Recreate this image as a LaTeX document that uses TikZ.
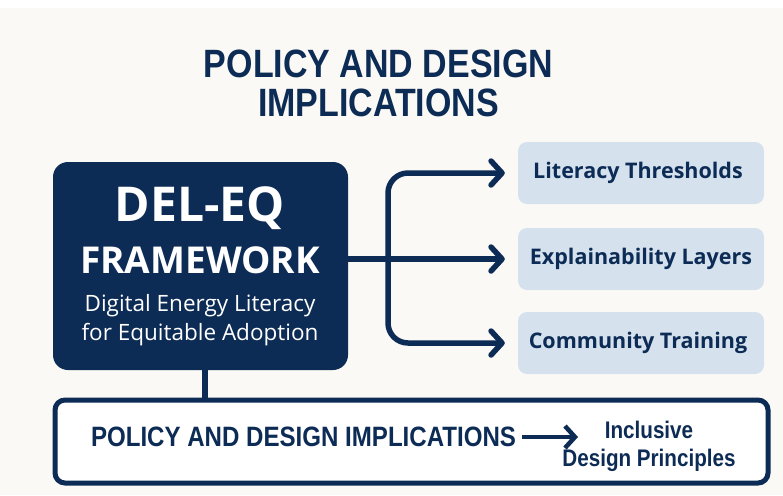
\documentclass[tikz,border=0pt]{standalone}
\usepackage{fontspec}
\setmainfont{Open Sans}
\newfontfamily\condfont[FakeStretch=0.86]{Liberation Sans}
\usetikzlibrary{arrows.meta}
\definecolor{navy}{HTML}{0C2B55}
\definecolor{paleblue}{HTML}{D5E2EE}
\definecolor{paper}{HTML}{FBF9F5}
\tikzset{
	item/.style={fill=paleblue,rounded corners=9pt,minimum width=246pt,minimum height=62pt,inner sep=0pt,text=navy,font=\fontsize{21.5}{24}\selectfont\bfseries},
	link/.style={draw=navy,line width=5.5pt,line cap=round,rounded corners=20pt,-{Straight Barb[length=11pt,width=24pt,round]}},
	inbox/.style={text=white,inner sep=0pt}
}
\begin{document}
\begin{tikzpicture}[x=1pt,y=-1pt]
	\useasboundingbox (0,0) rectangle (783,495);
	\fill[paper] (0,0) rectangle (783,495);
	\fill[white] (0,0) rectangle (783,8);
	% heading
	\node[inner sep=0pt,align=center,text=navy,font=\condfont\bfseries\fontsize{39.5}{39}\selectfont] (title) at (378.5,83.5) {POLICY AND DESIGN\\IMPLICATIONS};
	% framework block
	\node[fill=navy,rounded corners=15pt,minimum width=295pt,minimum height=208pt] (del) at (200.5,266) {};
	\node[inbox,font=\fontsize{48}{48}\selectfont\bfseries] (delname) at (200,208) {DEL-EQ};
	\node[inbox,font=\fontsize{37}{37}\selectfont\bfseries] (delkind) at (200,260) {FRAMEWORK};
	\node[inbox,font=\fontsize{22.5}{22}\selectfont] (delsub1) at (200,306) {Digital Energy Literacy};
	\node[inbox,font=\fontsize{22.5}{22}\selectfont] (delsub2) at (200,335) {for Equitable Adoption};
	% three outcomes
	\node[item] (lit) at (641,173) {\hspace*{-6pt}Literacy Thresholds};
	\node[item] (expl) at (641,259) {Explainability Layers};
	\node[item] (comm) at (641,343) {\hspace*{-6pt}Community Training};
	\coordinate (fork) at (388,259);
	\draw[link,shorten >=13pt] (del.east |- expl) -- (expl.west);
	\draw[link,shorten >=13pt] (fork) |- (lit.west);
	\draw[link,shorten >=13pt] (fork) |- (comm.west);
	% implications strip
	\node[draw=navy,line width=5pt,fill=white,rounded corners=10pt,minimum width=713pt,minimum height=83pt] (impl) at (411.5,441.5) {};
	\draw[navy,line width=5.5pt] (205,370) -- (205,400);
	\node[inner sep=0pt,text=navy,font=\condfont\bfseries\fontsize{28}{28}\selectfont] (impltext) at (303.5,437) {POLICY AND DESIGN IMPLICATIONS};
	\node[inner sep=0pt,align=center,text=navy,font=\condfont\bfseries\fontsize{24}{28}\selectfont] (incl) at (649,446) {Inclusive\\Design Principles};
	\draw[navy,line width=4.5pt,-{Straight Barb[length=10pt,width=22pt]}] (impltext.east) ++(6pt,0) -- (578,437);
\end{tikzpicture}
\end{document}
